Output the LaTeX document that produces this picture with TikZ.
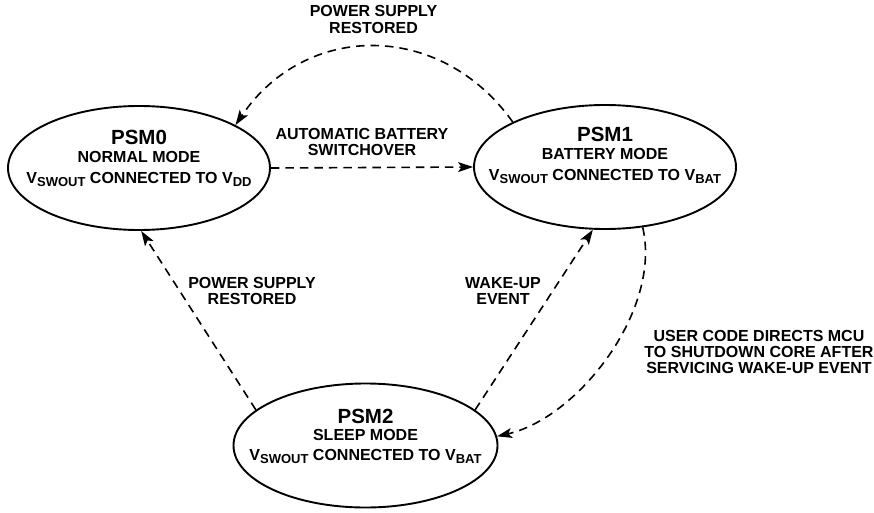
\documentclass[tikz,border=0pt]{standalone}
\usepackage{fontspec}
\setmainfont{Liberation Sans}
\usetikzlibrary{shapes.geometric,arrows.meta}
\newcommand{\Vsb}[1]{V\raisebox{-3.5pt}{\fontsize{13}{13}\selectfont #1}}
\begin{document}
\begin{tikzpicture}[x=1pt,y=-1pt,
  statebox/.style={draw,ellipse,line width=1.9pt,inner sep=0pt,minimum width=262pt,minimum height=124pt},
  titletext/.style={anchor=base,font=\fontsize{20.5}{20}\selectfont\bfseries,inner sep=0pt},
  subtext/.style={anchor=base,font=\fontsize{16}{16}\selectfont\bfseries,inner sep=0pt},
  lbl/.style={align=center,font=\fontsize{16}{16.2}\selectfont\bfseries,inner sep=0pt},
  conn/.style={line width=1.6pt,dash pattern=on 8.5pt off 6pt,-{Stealth[length=15pt,width=10pt,inset=3.5pt]}}
]
\useasboundingbox (0,0) rectangle (874,513);

\node[statebox] (psm0) at (139,168) {};
\node[statebox] (psm1) at (605,167) {};
\node[statebox,minimum width=264pt] (psm2) at (365.5,445.5) {};

\node[titletext] (t0) at (139,145) {PSM0};
\node[subtext] (m0) at (139,163) {NORMAL MODE};
\node[subtext] (v0) at (139,183) {\Vsb{SWOUT} CONNECTED TO \Vsb{DD}};

\node[titletext] (t1) at (605,141.5) {PSM1};
\node[subtext] (m1) at (605,160) {BATTERY MODE};
\node[subtext] (v1) at (605,180) {\Vsb{SWOUT} CONNECTED TO \Vsb{BAT}};

\node[titletext] (t2) at (365.5,423) {PSM2};
\node[subtext] (m2) at (365.5,440) {SLEEP MODE};
\node[subtext] (v2) at (365.5,460) {\Vsb{SWOUT} CONNECTED TO \Vsb{BAT}};

\node[lbl] (l1) at (373.5,19.5) {POWER SUPPLY\\RESTORED};
\node[lbl] (l2) at (362,142) {AUTOMATIC BATTERY\\SWITCHOVER};
\node[lbl] (l3) at (252,291) {POWER SUPPLY\\RESTORED};
\node[lbl] (l4) at (503,291) {WAKE-UP\\EVENT};
\node[lbl] (l5) at (759,352) {USER CODE DIRECTS MCU\\TO SHUTDOWN CORE AFTER\\SERVICING WAKE-UP EVENT};

\draw[conn] (psm1.154) .. controls (440,20) and (305,22) .. (psm0.24);
\draw[conn] (psm0.east) -- (psm1.west);
\draw[conn] (psm2.162.5) -- (psm0.272.7);
\draw[conn] (psm2.18.3) -- (psm1.259);
\draw[conn] (psm1.302) .. controls (662,310) and (578,418) .. (psm2.4);
\end{tikzpicture}
\end{document}
